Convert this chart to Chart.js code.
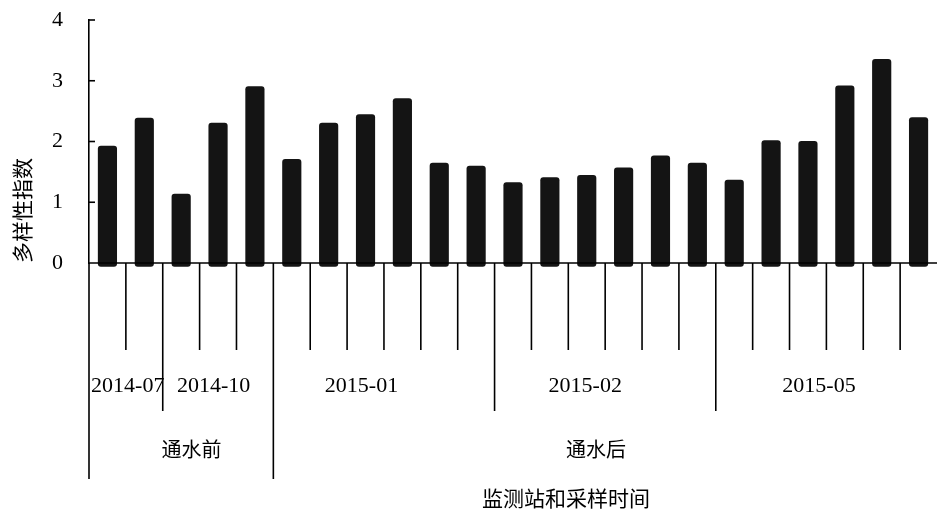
<!DOCTYPE html>
<html>
<head>
<meta charset="utf-8">
<script src="https://cdn.jsdelivr.net/npm/chart.js@4/dist/chart.umd.min.js"></script>
<style>
  html, body { margin: 0; padding: 0; background: #fff; }
  #wrap { width: 937px; height: 511px; }
</style>
</head>
<body>
<div id="wrap"><canvas id="chart"></canvas></div>
<script>
// Dữ liệu
const periods = ['2014-07', '2014-10', '2015-01', '2015-02', '2015-05'];
const periodSize = [2, 3, 6, 6, 6];          // số trạm trong mỗi đợt lấy mẫu
const phases = ['通水前', '通水后'];
const phaseSize = [5, 18];                    // số cột trong mỗi giai đoạn
const diversity = [1.93, 2.39, 1.14, 2.31, 2.91,
                   1.71, 2.31, 2.45, 2.71, 1.65, 1.60,
                   1.33, 1.41, 1.45, 1.57, 1.77, 1.65,
                   1.37, 2.02, 2.01, 2.92, 3.36, 2.40];
const yTicks = [0, 1, 2, 3, 4];

// nhãn từng cột: đợt + số thứ tự trạm
const categories = [];
periods.forEach((p, k) => {
    for (let s = 1; s <= periodSize[k]; s++) categories.push(p + '-' + s);
});

const serif = '"Liberation Serif", "Noto Sans CJK SC", serif';
const cjk = '"Noto Sans CJK SC", "Liberation Serif", serif';

// Plugin vẽ trục hoành, các vạch chia nhóm và nhãn nhóm
const groupAxis = {
    id: 'groupAxis',
    afterDraw(chart, args, opts) {
        const ctx = chart.ctx;
        const x = chart.scales.x;
        const y = chart.scales.y;
        const area = chart.chartArea;
        const y0 = y.getPixelForValue(0);

        ctx.save();
        ctx.strokeStyle = '#000';
        ctx.lineWidth = 1.6;

        // đường 0
        ctx.beginPath();
        ctx.moveTo(area.left, y0);
        ctx.lineTo(area.right, y0);
        ctx.stroke();

        // vạch nhỏ phía trong trục tung
        yTicks.forEach(v => {
            if (v === 0) return;
            const py = y.getPixelForValue(v);
            ctx.beginPath();
            ctx.moveTo(area.left, py);
            ctx.lineTo(area.left + 6, py);
            ctx.stroke();
        });

        // vị trí ranh giới giai đoạn và đợt
        const phaseEdges = [0];
        phaseSize.forEach(n => phaseEdges.push(phaseEdges[phaseEdges.length - 1] + n));
        const periodEdges = [0];
        periodSize.forEach(n => periodEdges.push(periodEdges[periodEdges.length - 1] + n));

        for (let i = 0; i < categories.length; i++) {
            const bx = x.getPixelForValue(i - 0.5);
            let len = opts.shortTick;
            if (phaseEdges.includes(i)) len = opts.longTick;
            else if (periodEdges.includes(i)) len = opts.midTick;
            ctx.beginPath();
            ctx.moveTo(bx, y0);
            ctx.lineTo(bx, y0 + len);
            ctx.stroke();
        }

        ctx.fillStyle = '#000';
        ctx.textAlign = 'center';
        ctx.textBaseline = 'middle';

        // nhãn đợt lấy mẫu
        ctx.font = '22px ' + serif;
        periods.forEach((p, k) => {
            const mid = (periodEdges[k] + periodEdges[k + 1]) / 2 - 0.5 + opts.periodShift[k];
            ctx.fillText(p, x.getPixelForValue(mid), y0 + opts.periodY);
        });

        // nhãn giai đoạn
        ctx.font = '20px ' + cjk;
        phases.forEach((p, k) => {
            const mid = (phaseEdges[k] + phaseEdges[k + 1]) / 2 - 0.5 + opts.phaseShift[k];
            ctx.fillText(p, x.getPixelForValue(mid), y0 + opts.phaseY);
        });

        // tên trục hoành
        ctx.font = '21px ' + cjk;
        ctx.fillText('监测站和采样时间', opts.titleX, y0 + opts.titleY);
        ctx.restore();
    }
};

const ctx = document.getElementById('chart').getContext('2d');
new Chart(ctx, {
    type: 'bar',
    data: {
        labels: categories,
        datasets: [{
            label: '多样性指数',
            data: diversity,
            backgroundColor: '#141414',
            borderColor: '#000',
            borderWidth: 0,
            borderRadius: 3,
            borderSkipped: false,
            base: -0.06,
            clip: false,
            barPercentage: 0.52,
            categoryPercentage: 1.0
        }]
    },
    options: {
        responsive: true,
        maintainAspectRatio: false,
        animation: false,
        layout: { padding: { top: 20, right: 0, bottom: 248, left: 0 } },
        plugins: {
            legend: { display: false },
            tooltip: { enabled: false },
            groupAxis: {
                shortTick: 87,
                midTick: 148,
                longTick: 216,
                periodY: 123,
                phaseY: 186,
                titleY: 235,
                titleX: 566,
                periodShift: [0.05, -0.12, -0.61, -0.54, -0.2],
                phaseShift: [0.28, -0.25]
            }
        },
        scales: {
            x: { display: false },
            y: {
                min: 0,
                max: 4,
                afterBuildTicks: scale => { scale.ticks = yTicks.map(v => ({ value: v })); },
                afterFit: scale => {
                    scale.width = 89;
                    scale.paddingTop = 0;
                    scale.paddingBottom = 0;
                },
                grid: { display: false, drawTicks: false },
                border: { display: true, color: '#000', width: 1.6 },
                ticks: {
                    padding: 26,
                    color: '#000',
                    font: { family: serif, size: 22 }
                },
                title: {
                    display: true,
                    text: '多样性指数',
                    align: 'start',
                    color: '#000',
                    padding: { top: 9, bottom: 0 },
                    font: { family: cjk, size: 21 }
                }
            }
        }
    },
    plugins: [groupAxis]
});
</script>
</body>
</html>
